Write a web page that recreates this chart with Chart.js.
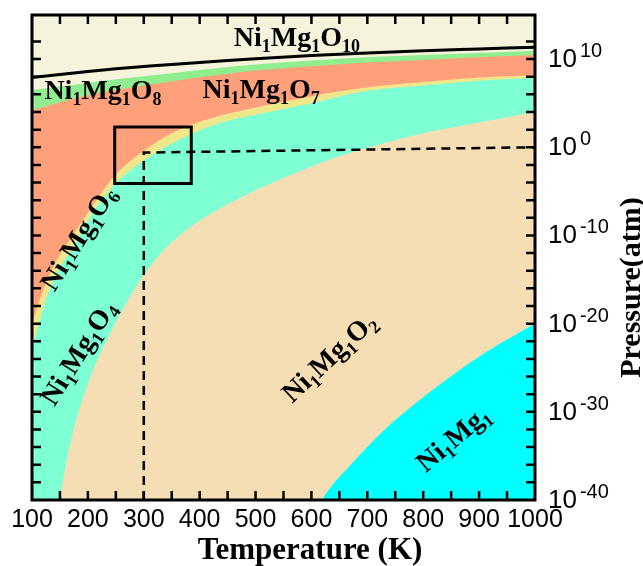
<!DOCTYPE html>
<html>
<head>
<meta charset="utf-8">
<script src="https://cdn.jsdelivr.net/npm/chart.js@4/dist/chart.umd.min.js"></script>
<style>
  html, body { margin: 0; padding: 0; background: #fff; }
  canvas { display: block; }
</style>
</head>
<body>
<canvas id="phase" width="643" height="566"></canvas>
<script>
// Temperatures (K) at which the upper phase boundaries are tabulated
const tempUpper = [100, 150, 200, 250, 300, 350, 400, 450, 500, 600, 700, 800, 900, 1000];
// log10 P (atm): Ni1Mg1O10 boundary (black line)
const logO10Line = [7.9, 8.25, 8.6, 8.9, 9.15, 9.4, 9.6, 9.85, 10.05, 10.4, 10.7, 10.95, 11.15, 11.35];
// log10 P (atm): top and bottom of the Ni1Mg1O8 band
const logO8Top = [6.5, 6.9, 7.3, 7.7, 8.05, 8.4, 8.75, 9.1, 9.4, 9.85, 10.2, 10.45, 10.7, 10.95];
const logO8Bottom = [4.2, 5.1, 5.9, 6.5, 7.0, 7.5, 7.95, 8.35, 8.7, 9.2, 9.6, 9.9, 10.2, 10.45];

// Ni1Mg1O6 band (between Ni1Mg1O7 and Ni1Mg1O4)
const tempO6 = [100, 110, 120, 130, 150, 175, 200, 250, 300, 350, 400, 450, 500, 600, 700, 800, 900, 1000];
const logO6Top = [-20.0, -18.0, -16.2, -14.6, -12.2, -9.8, -7.4, -3.1, -0.4, 1.6, 2.9, 3.8, 4.5, 5.8, 6.8, 7.4, 7.9, 8.2];
const logO6Bottom = [-23.0, -20.5, -18.3, -16.4, -13.6, -11.3, -8.3, -4.1, -1.5, 0.4, 1.9, 3.0, 3.7, 5.0, 6.4, 7.0, 7.55, 7.85];

// Ni1Mg1O4 / Ni1Mg1O2 boundary
const tempO2 = [145, 150, 159, 172, 190, 213, 240, 272, 302, 338, 374, 418, 472, 526, 580, 651, 723, 812, 902, 1000];
const logO2Top = [-43.0, -40.0, -36.6, -32.6, -28.7, -24.7, -21.1, -17.3, -14.3, -11.5, -9.5, -7.6, -5.75, -4.15, -2.7, -1.0, 0.35, 1.75, 2.85, 4.0];

// Ni1Mg1O2 / Ni1Mg1 boundary
const tempMetal = [605, 619, 669, 728, 789, 848, 907, 968, 1000];
const logMetalTop = [-42.0, -40.0, -36.1, -32.2, -28.9, -26.05, -23.45, -21.15, -20.0];

// Guide lines: dashed path to ambient conditions and the highlighted window
const refTemp = [300, 300, 1000];
const refLogP = [-40, -0.6, 0.0];
const boxTemp = [248, 385, 385, 248, 248];
const boxLogP = [2.3, 2.3, -4.1, -4.1, 2.3];

// Axis ticks
const tempTicks = [100, 200, 300, 400, 500, 600, 700, 800, 900, 1000];
const pressureExps = [10, 0, -10, -20, -30, -40];

// Phase names with their anchor (T, log10 P) and text angle
const phaseLabels = [
  { text: 'Ni1Mg1O10', t: 574, p: 12.5, angle: 0 },
  { text: 'Ni1Mg1O8', t: 227, p: 6.5, angle: 0 },
  { text: 'Ni1Mg1O7', t: 510, p: 6.6, angle: 0 },
  { text: 'Ni1Mg1O6', t: 182, p: -10.3, angle: -58 },
  { text: 'Ni1Mg1O4', t: 182, p: -23.3, angle: -58 },
  { text: 'Ni1Mg1O2', t: 631, p: -23.8, angle: -43 },
  { text: 'Ni1Mg1', t: 853, p: -33.0, angle: -40 }
];

const COLORS = {
  o10: '#F5F3DC',
  o8: '#90EE90',
  o7: '#FFA07A',
  o6: '#F0E68C',
  o4: '#7FFFD4',
  o2: '#F5DEB3',
  metal: '#00FFFF'
};

const SERIF = '"Liberation Serif", "Times New Roman", serif';
const SANS = '"Liberation Sans", Arial, sans-serif';

const pts = (ts, ls) => ts.map((t, i) => ({ x: t, y: ls[i] }));

function region(ts, ls, color, order) {
  return {
    data: pts(ts, ls),
    fill: 'start',
    backgroundColor: color,
    borderWidth: 0,
    pointRadius: 0,
    cubicInterpolationMode: 'monotone',
    order: order
  };
}

function drawFormula(ctx, text, cx, cy, angle, size) {
  const mainFont = 'bold ' + size + 'px ' + SERIF;
  const subFont = 'bold ' + Math.round(size * 0.64) + 'px ' + SERIF;
  const parts = text.match(/[A-Za-z]+|\d+/g).map(s => [s, /\d/.test(s)]);
  ctx.save();
  ctx.translate(cx, cy);
  ctx.rotate(angle * Math.PI / 180);
  ctx.textBaseline = 'alphabetic';
  ctx.textAlign = 'left';
  ctx.fillStyle = '#000';
  let w = 0;
  parts.forEach(([s, sub]) => { ctx.font = sub ? subFont : mainFont; w += ctx.measureText(s).width; });
  let x = -w / 2;
  const base = size * 0.33;
  parts.forEach(([s, sub]) => {
    ctx.font = sub ? subFont : mainFont;
    ctx.fillText(s, x, sub ? base + size * 0.2 : base);
    x += ctx.measureText(s).width;
  });
  ctx.restore();
}

const phasePlot = {
  id: 'phasePlot',
  beforeDatasetsDraw(chart) {
    const { ctx, chartArea: a } = chart;
    ctx.save();
    ctx.fillStyle = COLORS.o10;
    ctx.fillRect(a.left, a.top, a.right - a.left, a.bottom - a.top);
    ctx.restore();
  },
  afterDatasetsDraw(chart) {
    const { ctx, scales: { x, y } } = chart;
    phaseLabels.forEach(l => {
      drawFormula(ctx, l.text, x.getPixelForValue(l.t), y.getPixelForValue(l.p), l.angle, 28);
    });
  },
  afterDraw(chart) {
    const { ctx, chartArea: a, scales: { x, y } } = chart;
    ctx.save();
    ctx.strokeStyle = '#000';
    // inward tick marks on all four sides
    ctx.lineWidth = 2.5;
    const tl = 9;
    ctx.beginPath();
    for (let t = 150; t < 1000; t += 50) {
      const px = x.getPixelForValue(t);
      ctx.moveTo(px, a.bottom); ctx.lineTo(px, a.bottom - tl);
      ctx.moveTo(px, a.top); ctx.lineTo(px, a.top + tl);
    }
    for (let p = -38; p <= 12; p += 2) {
      const py = y.getPixelForValue(p);
      ctx.moveTo(a.left, py); ctx.lineTo(a.left + tl, py);
      ctx.moveTo(a.right, py); ctx.lineTo(a.right - tl, py);
    }
    ctx.stroke();
    // frame
    ctx.lineWidth = 3;
    ctx.strokeRect(a.left, a.top, a.right - a.left, a.bottom - a.top);

    // pressure tick labels as powers of ten
    ctx.fillStyle = '#000';
    ctx.textAlign = 'left';
    ctx.textBaseline = 'alphabetic';
    pressureExps.forEach(e => {
      const py = y.getPixelForValue(e);
      const x0 = a.right + 13;
      ctx.font = '26px ' + SANS;
      ctx.fillText('10', x0, py + 8);
      const w = ctx.measureText('10').width;
      ctx.font = '20px ' + SANS;
      ctx.fillText(String(e), x0 + w + 3, py - 2);
    });

    // temperature axis title
    ctx.textAlign = 'center';
    ctx.font = 'bold 31px ' + SERIF;
    ctx.fillText('Temperature (K)', 310, 559);

    // pressure axis title, reading upward
    ctx.save();
    ctx.translate(640, (a.top + a.bottom) / 2 + 30);
    ctx.rotate(-Math.PI / 2);
    ctx.textAlign = 'center';
    ctx.font = 'bold 30px ' + SERIF;
    ctx.fillText('Pressure(atm)', 0, 0);
    ctx.restore();
    ctx.restore();
  }
};

new Chart(document.getElementById('phase'), {
  type: 'line',
  data: {
    datasets: [
      region(tempUpper, logO8Top, COLORS.o8, 20),
      region(tempUpper, logO8Bottom, COLORS.o7, 19),
      region(tempO6, logO6Top, COLORS.o6, 18),
      region(tempO6, logO6Bottom, COLORS.o4, 17),
      region(tempO2, logO2Top, COLORS.o2, 16),
      region(tempMetal, logMetalTop, COLORS.metal, 15),
      {
        data: pts(tempUpper, logO10Line),
        fill: false, borderColor: '#000', borderWidth: 3, pointRadius: 0,
        cubicInterpolationMode: 'monotone', order: 4
      },
      {
        data: pts(refTemp, refLogP),
        fill: false, borderColor: '#000', borderWidth: 2.5, borderDash: [9, 6],
        pointRadius: 0, tension: 0, order: 3
      },
      {
        data: pts(boxTemp, boxLogP),
        fill: false, borderColor: '#000', borderWidth: 3, pointRadius: 0,
        tension: 0, borderJoinStyle: 'miter', borderCapStyle: 'square', order: 2
      }
    ]
  },
  options: {
    responsive: false,
    animation: false,
    devicePixelRatio: 1,
    layout: { padding: { left: 32, top: 15, right: 0, bottom: 0 } },
    plugins: { legend: { display: false }, tooltip: { enabled: false } },
    elements: { point: { radius: 0 } },
    scales: {
      x: {
        type: 'linear', min: 100, max: 1000,
        afterBuildTicks: s => { s.ticks = tempTicks.map(v => ({ value: v })); },
        ticks: {
          color: '#000', padding: 5, maxRotation: 0, autoSkip: false,
          font: { family: SANS, size: 25 },
          callback: v => String(v)
        },
        grid: { display: false, drawTicks: false },
        border: { display: false },
        title: { display: false },
        afterFit: s => { s.height = 66; }
      },
      y: {
        type: 'linear', position: 'right', min: -40, max: 15,
        ticks: { display: false },
        grid: { display: false, drawTicks: false },
        border: { display: false },
        afterFit: s => { s.width = 108; }
      }
    }
  },
  plugins: [phasePlot]
});
</script>
</body>
</html>
